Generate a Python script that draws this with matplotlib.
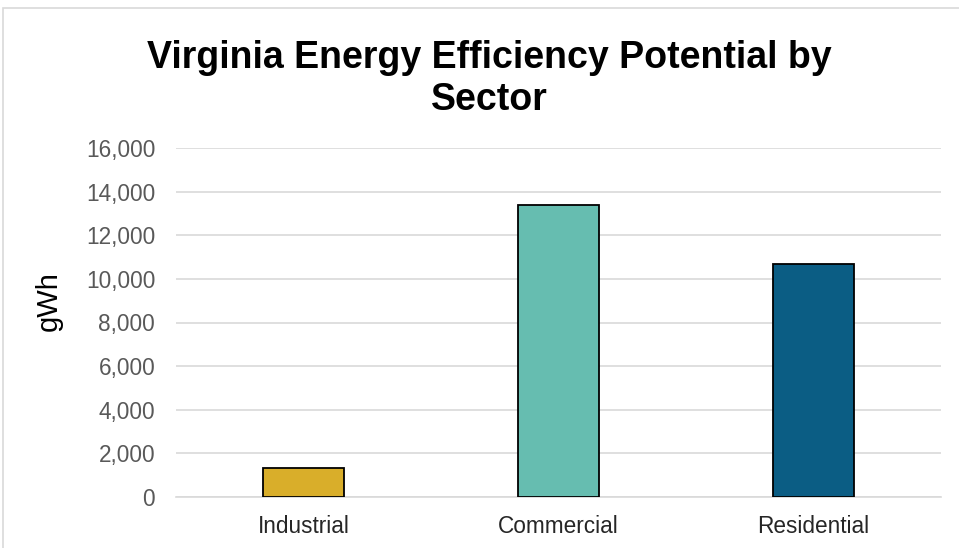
import matplotlib.pyplot as plt
from matplotlib.patches import Rectangle
from matplotlib.ticker import FuncFormatter

plt.rcParams['font.family'] = ['Liberation Sans', 'DejaVu Sans']

# Datos
sectors = ["Industrial", "Commercial", "Residential"]
potential_gwh = [1350, 13400, 10700]
colors = ["#D9AE2A", "#66BDB0", "#0B5D84"]

W, H = 959, 548
fig = plt.figure(figsize=(W / 100, H / 100), dpi=100)

# marco del grafico
fig.patches.append(Rectangle((3 / W, -0.05), 1.1, (H - 8) / H + 0.05,
                             transform=fig.transFigure, fill=False,
                             edgecolor="#D9D9D9", linewidth=1.2))

ax = fig.add_axes([176 / W, 51 / H, (941 - 176) / W, 349 / H])
ax.bar(sectors, potential_gwh, width=0.32, color=colors,
       edgecolor="black", linewidth=1.3, zorder=3)

ax.set_ylim(0, 16000)
ax.set_xlim(-0.5, 2.5)
ax.set_yticks(range(0, 16001, 2000))
ax.yaxis.set_major_formatter(FuncFormatter(lambda v, p: f"{int(v):,}"))
ax.grid(axis="y", color="#D9D9D9", linewidth=1.2, zorder=0)
for s in ["top", "right", "left"]:
    ax.spines[s].set_visible(False)
ax.spines["bottom"].set_color("#D9D9D9")
ax.spines["bottom"].set_linewidth(1.2)
ax.tick_params(axis="both", length=0, labelsize=16.3)
ax.tick_params(axis="y", pad=15, labelcolor="#595959")
ax.tick_params(axis="x", pad=13, labelcolor="#262626")

ax.set_ylabel("gWh", fontsize=21, color="black")
ax.yaxis.set_label_coords((63 - 176) / 765, 0.56)
fig.text(489 / W, 1 - 79 / H, "Virginia Energy Efficiency Potential by\nSector",
         ha="center", va="center", fontsize=27, fontweight="bold",
         linespacing=1.2)

fig.savefig("out.png", dpi=100)
